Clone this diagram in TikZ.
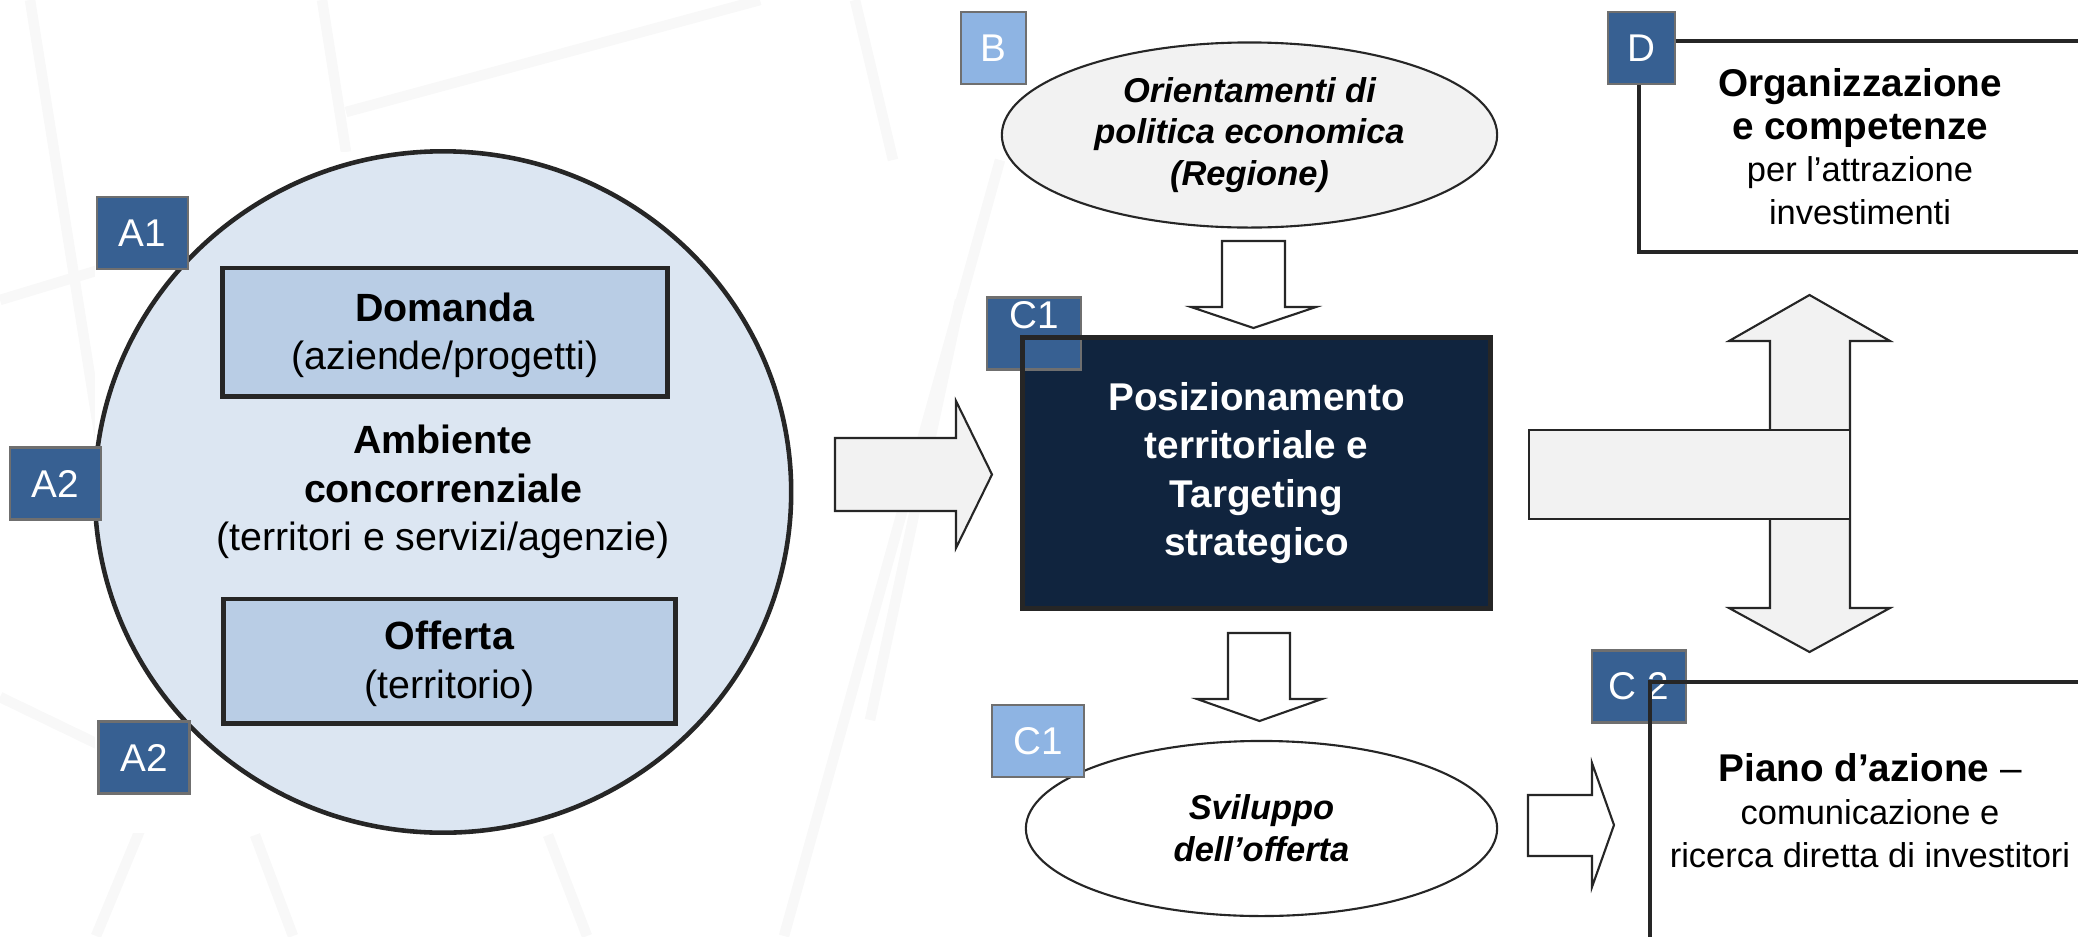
\documentclass[tikz,border=0pt]{standalone}
\usepackage{fontspec}
\setmainfont{Liberation Sans}
\usetikzlibrary{shapes.geometric}
\definecolor{labdark}{HTML}{376092}
\definecolor{lablight}{HTML}{8EB4E3}
\definecolor{labborder}{HTML}{6F6F6F}
\definecolor{circlefill}{HTML}{DCE6F2}
\definecolor{boxfill}{HTML}{B9CDE5}
\definecolor{darkfill}{HTML}{10243E}
\definecolor{edge}{HTML}{262626}
\definecolor{arrowfill}{HTML}{F2F2F2}
\definecolor{bgline}{HTML}{F8F8F8}
\tikzset{
  lab/.style={rectangle, draw=labborder, line width=0.6pt, text=white, inner sep=0pt,
    minimum height=0.72cm, font=\fontsize{11}{13}\selectfont},
  labdk/.style={lab, fill=labdark},
  lablt/.style={lab, fill=lablight},
  inbox/.style={rectangle, draw=edge, line width=1.4pt, fill=boxfill, inner sep=0pt},
  boxtext/.style={align=center, inner sep=0pt, font=\fontsize{11.2}{13.8}\selectfont},
  bigcirc/.style={ellipse, draw=edge, line width=1.3pt, fill=circlefill, inner sep=0pt,
    align=center, font=\fontsize{11.2}{13.8}\selectfont},
  softell/.style={ellipse, draw=edge, line width=0.6pt, inner sep=0pt, align=center},
  darkbox/.style={rectangle, draw=edge, line width=1.4pt, fill=darkfill, text=white,
    inner sep=0pt, outer sep=0pt, align=center, font=\fontsize{11}{13.7}\selectfont\bfseries},
  frame/.style={rectangle, draw=edge, line width=1.3pt, fill=white, inner sep=0pt,
    outer sep=0pt, align=center},
  blockarrow/.style={draw=edge, line width=0.6pt, line join=miter},
  bgstroke/.style={draw=bgline, line width=3pt}
}
\begin{document}
\begin{tikzpicture}[x=0.01cm, y=-0.01cm]
\useasboundingbox (0,0) rectangle (2078,936);

% faint background strokes
\draw[bgstroke] (30,0) -- (105,470);
\draw[bgstroke] (0,300) -- (330,200);
\draw[bgstroke] (322,0) -- (346,152);
\draw[bgstroke] (346,112) -- (760,0);
\draw[bgstroke] (855,0) -- (893,160);
\draw[bgstroke] (0,697) -- (110,750);
\draw[bgstroke] (96,936) -- (140,830);
\draw[bgstroke] (293,936) -- (255,835);
\draw[bgstroke] (587,936) -- (548,835);
\draw[bgstroke] (784,936) -- (1000,160);
\draw[bgstroke] (960,300) -- (870,720);

% white area behind the big circle
\fill[white] (95,152) rectangle (791,833);

% big circle
\node[bigcirc, minimum width=6.96cm, minimum height=6.81cm] (amb) at (443,492)
  {\textbf{Ambiente}\\\textbf{concorrenziale}\\(territori e servizi/agenzie)};
\node[inbox, minimum width=4.44cm, minimum height=1.28cm] (dom) at (445,332) {};
\node[boxtext] (domt) at (445,335.5) {\textbf{Domanda}\\(aziende/progetti)};
\node[inbox, minimum width=4.51cm, minimum height=1.24cm] (off) at (449.5,661) {};
\node[boxtext] (offt) at (449.5,664) {\textbf{Offerta}\\(territorio)};
\node[labdk, minimum width=0.91cm] (la1) at (142.5,233) {A1};
\node[labdk, minimum width=0.91cm] (la2) at (55.5,483.5) {A2};
\node[labdk, minimum width=0.91cm] (la3) at (144,757.5) {A2};

% arrow circle -> positioning
\filldraw[blockarrow, fill=arrowfill] (835,438) -- (956,438) -- (956,401) -- (992,474.5)
  -- (956,548) -- (956,511) -- (835,511) -- cycle;

% B ellipse
\node[softell, fill=arrowfill, minimum width=4.95cm, minimum height=1.85cm,
  font=\fontsize{9.8}{11.9}\selectfont\bfseries\itshape] (ori) at (1249.5,135)
  {Orientamenti di\\politica economica\\(Regione)};
\node[lablt, minimum width=0.65cm] (lb) at (993.5,48) {B};

% down arrow B -> positioning
\filldraw[blockarrow, fill=white] (1222,241) -- (1285,241) -- (1285,307) -- (1316,307)
  -- (1253.5,328) -- (1191,307) -- (1222,307) -- cycle;

% positioning box
\node[darkbox, minimum width=4.67cm, minimum height=2.70cm] (pos) at (1256.5,473)
  {Posizionamento\\territoriale e\\Targeting\\strategico};
\node[labdk, minimum width=0.94cm] (lc1) at (1034,333.5) {};
\node[text=white, inner sep=0pt, font=\fontsize{11}{13}\selectfont] (lc1t) at (1034,315) {C1};
\draw[edge, line width=1.4pt] (pos.north west) rectangle (pos.south east);

% down arrow positioning -> sviluppo
\filldraw[blockarrow, fill=white] (1228,633) -- (1290,633) -- (1290,699) -- (1322,699)
  -- (1259.5,721) -- (1197,699) -- (1228,699) -- cycle;

% sviluppo ellipse
\node[softell, fill=white, minimum width=4.71cm, minimum height=1.75cm,
  font=\fontsize{9.8}{12}\selectfont\bfseries\itshape] (svi) at (1261.5,828.5)
  {Sviluppo\\dell’offerta};
\node[lablt, minimum width=0.92cm] (lc1b) at (1038,741) {C1};

% arrow sviluppo -> piano
\filldraw[blockarrow, fill=white] (1528,795) -- (1592,795) -- (1592,763) -- (1614,825)
  -- (1592,887) -- (1592,856) -- (1528,856) -- cycle;

% D frame
\node[frame, minimum width=4.42cm, minimum height=2.11cm,
  font=\fontsize{11}{12.1}\selectfont] (dfr) at (1860,146.5)
  {\textbf{Organizzazione}\\\textbf{e competenze}\\{\fontsize{9.8}{12.1}\selectfont per l’attrazione}\\{\fontsize{9.8}{12.1}\selectfont investimenti}};
\node[labdk, minimum width=0.67cm] (ld) at (1641.5,48) {D};

% cross arrows
\filldraw[blockarrow, fill=arrowfill] (1809.5,295) -- (1890,341) -- (1850,341) -- (1850,608)
  -- (1890,608) -- (1809.5,652) -- (1729,608) -- (1770,608) -- (1770,341) -- (1729,341) -- cycle;
\filldraw[blockarrow, fill=arrowfill] (1529,430) rectangle (1850,519);

% C2 frame
\node[frame, minimum width=4.40cm, minimum height=2.58cm,
  font=\fontsize{9.8}{12.2}\selectfont] (cfr) at (1870,811)
  {{\fontsize{11}{12.2}\selectfont\textbf{Piano d’azione} –}\\comunicazione e\\ricerca diretta di investitori};
\node[labdk, minimum width=0.94cm] (lc2) at (1639,686.5) {C 2};
\draw[edge, line width=1.3pt] (cfr.north west) rectangle (cfr.south east);
\end{tikzpicture}
\end{document}
